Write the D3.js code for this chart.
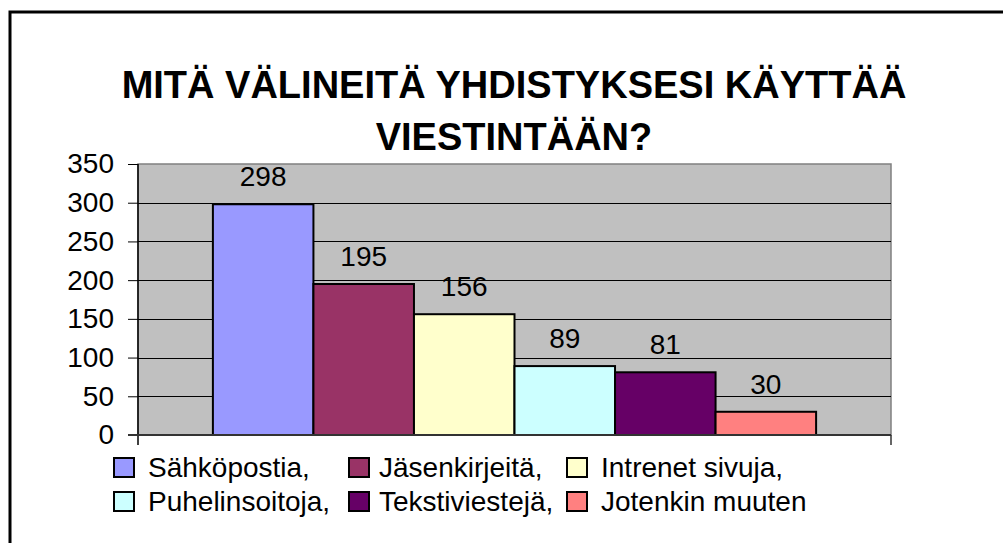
<!DOCTYPE html>
<html>
<head>
<meta charset="utf-8">
<script src="https://d3js.org/d3.v7.min.js"></script>
<style>
  body { margin: 0; background: #fff; }
  svg text { font-family: "Liberation Sans", Arial, sans-serif; }
</style>
</head>
<body>
<svg id="chart"></svg>
<script>
// data
const series = ["Sähköpostia,", "Jäsenkirjeitä,", "Intrenet sivuja,", "Puhelinsoitoja,", "Tekstiviestejä,", "Jotenkin muuten"];
const values = [298, 195, 156, 89, 81, 30];
const colors = ["#9999ff", "#993366", "#ffffcc", "#ccffff", "#660066", "#ff8080"];
const yTicks = [0, 50, 100, 150, 200, 250, 300, 350];
const titleLines = ["MITÄ VÄLINEITÄ YHDISTYKSESI KÄYTTÄÄ", "VIESTINTÄÄN?"];

(function() {
  const width = 1003;
  const height = 543;
  const plot = { left: 138, right: 891, top: 164, bottom: 435 };

  const svg = d3.select("#chart")
      .attr("width", width)
      .attr("height", height);

  // outer frame (runs off the right and bottom)
  svg.append("rect")
      .attr("x", 10).attr("y", 12)
      .attr("width", 1100).attr("height", 700)
      .attr("fill", "#fff")
      .attr("stroke", "#000")
      .attr("stroke-width", 3);

  // title
  svg.append("g").selectAll("text")
      .data(titleLines)
      .enter()
      .append("text")
      .attr("x", 514)
      .attr("y", (d, i) => 98 + i * 52)
      .attr("text-anchor", "middle")
      .attr("font-weight", "bold")
      .attr("font-size", 38)
      .text(d => d);

  const y = d3.scaleLinear().domain([0, 350]).range([plot.bottom, plot.top]);
  const x = d3.scaleBand()
      .domain(series)
      .range([plot.left, plot.right])
      .paddingInner(0)
      .paddingOuter(0.745);

  // plot background
  svg.append("rect")
      .attr("x", plot.left).attr("y", plot.top)
      .attr("width", plot.right - plot.left)
      .attr("height", plot.bottom - plot.top)
      .attr("fill", "#c0c0c0")
      .attr("stroke", "#808080")
      .attr("stroke-width", 1.5);

  // gridlines
  svg.append("g").selectAll("line")
      .data(yTicks.filter(t => t > 0 && t < 350))
      .enter()
      .append("line")
      .attr("x1", plot.left).attr("x2", plot.right)
      .attr("y1", d => Math.round(y(d)) + 0.5)
      .attr("y2", d => Math.round(y(d)) + 0.5)
      .attr("stroke", "#000")
      .attr("stroke-width", 1);

  // y axis
  const yAxis = d3.axisLeft(y)
      .tickValues(yTicks)
      .tickSize(10)
      .tickPadding(14);
  const ya = svg.append("g")
      .attr("transform", "translate(" + plot.left + ",0)")
      .call(yAxis);
  ya.select(".domain").remove();
  ya.selectAll(".tick line").attr("stroke", "#000").attr("stroke-width", 1);
  ya.selectAll(".tick text")
      .attr("fill", "#000")
      .attr("font-size", 28)
      .attr("font-family", "Liberation Sans, Arial, sans-serif");
  svg.append("line")
      .attr("x1", plot.left).attr("x2", plot.left)
      .attr("y1", plot.top).attr("y2", plot.bottom + 10)
      .attr("stroke", "#000").attr("stroke-width", 1.5);

  // bars
  svg.append("g").selectAll("rect")
      .data(values)
      .enter()
      .append("rect")
      .attr("x", (d, i) => x(series[i]))
      .attr("y", d => y(d))
      .attr("width", x.bandwidth())
      .attr("height", d => y(0) - y(d))
      .attr("fill", (d, i) => colors[i])
      .attr("stroke", "#000")
      .attr("stroke-width", 2);

  // value labels
  svg.append("g").selectAll("text")
      .data(values)
      .enter()
      .append("text")
      .attr("x", (d, i) => x(series[i]) + x.bandwidth() / 2)
      .attr("y", d => y(d) - 18)
      .attr("text-anchor", "middle")
      .attr("font-size", 28)
      .text(d => d);

  // category axis
  svg.append("line")
      .attr("x1", plot.left - 10).attr("x2", plot.right)
      .attr("y1", plot.bottom).attr("y2", plot.bottom)
      .attr("stroke", "#333").attr("stroke-width", 2);
  svg.append("line")
      .attr("x1", plot.right).attr("x2", plot.right)
      .attr("y1", plot.bottom).attr("y2", plot.bottom + 10)
      .attr("stroke", "#333").attr("stroke-width", 1.5);

  // legend
  const legCols = [113, 348, 566];
  const legRows = [458, 492];
  const leg = svg.append("g").selectAll("g")
      .data(series)
      .enter()
      .append("g")
      .attr("transform", (d, i) => "translate(" + legCols[i % 3] + "," + legRows[Math.floor(i / 3)] + ")");
  leg.append("rect")
      .attr("x", 1).attr("y", 0)
      .attr("width", 20).attr("height", 19)
      .attr("fill", (d, i) => colors[i])
      .attr("stroke", "#000")
      .attr("stroke-width", 2);
  leg.append("text")
      .attr("x", (d, i) => i % 3 === 1 ? 31 : 35)
      .attr("y", 19)
      .attr("font-size", 28)
      .text(d => d);
})();
</script>
</body>
</html>
